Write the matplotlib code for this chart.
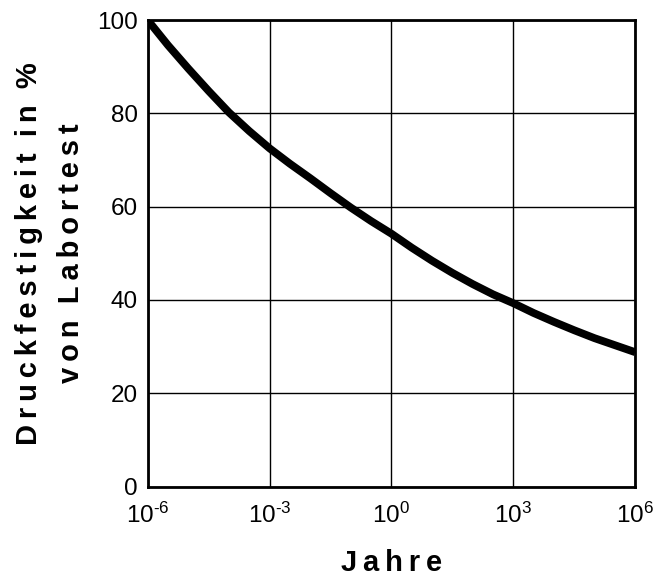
import matplotlib
matplotlib.use("Agg")
import matplotlib.pyplot as plt

# Werte (Jahre, Druckfestigkeit in %)
jahre = [1e-6, 10**-5.5, 1e-5, 10**-4.5, 1e-4, 10**-3.5, 1e-3, 10**-2.5, 1e-2,
         10**-1.5, 1e-1, 10**-0.5, 1e0, 10**0.5, 1e1, 10**1.5, 1e2, 10**2.5,
         1e3, 10**3.5, 1e4, 10**4.5, 1e5, 10**5.5, 1e6]
festigkeit = [100, 94.6, 89.6, 84.8, 80.2, 76.2, 72.5, 69.2, 66.1,
              62.9, 59.8, 56.9, 54.2, 51.2, 48.4, 45.8, 43.4, 41.2,
              39.3, 37.2, 35.3, 33.5, 31.8, 30.3, 28.8]

x_ticks = [1e-6, 1e-3, 1e0, 1e3, 1e6]
x_labels = [r"$10^{\text{-6}}$", r"$10^{\text{-3}}$", r"$10^{\text{0}}$",
            r"$10^{\text{3}}$", r"$10^{\text{6}}$"]
y_ticks = [0, 20, 40, 60, 80, 100]

plt.rcParams["font.family"] = ["Liberation Sans", "DejaVu Sans"]
plt.rcParams["mathtext.fontset"] = "custom"
plt.rcParams["mathtext.rm"] = "Liberation Sans"
plt.rcParams["mathtext.it"] = "Liberation Sans"

fig = plt.figure(figsize=(6.61, 5.77), dpi=100)
ax = fig.add_axes([0.2234, 0.1568, 0.7375, 0.8085])

ax.plot(jahre, festigkeit, color="black", linewidth=5.6, solid_capstyle="butt", zorder=3)

ax.set_xscale("log")
ax.set_xlim(1e-6, 1e6)
ax.set_ylim(0, 100)
ax.set_xticks(x_ticks)
ax.set_xticklabels(x_labels)
ax.set_yticks(y_ticks)
ax.minorticks_off()
ax.tick_params(axis="both", length=0, labelsize=17.5)
ax.tick_params(axis="x", pad=12)
ax.tick_params(axis="y", pad=7)

ax.grid(True, color="black", linewidth=1.0)
for s in ax.spines.values():
    s.set_linewidth(2.0)
    s.set_color("black")

# gesperrte Schrift mit schmalen Leerzeichen
sp = "\u2009"
ax.set_xlabel(sp.join("Jahre"), fontsize=21, fontweight="bold", labelpad=15)
zeile1 = sp.join("Druckfestigkeit") + "  " + sp.join("in") + "  %"
zeile2 = sp.join("von") + "  " + sp.join("Labortest")
ax.set_ylabel(zeile1 + "\n" + zeile2, fontsize=21, fontweight="bold",
              labelpad=9, linespacing=1.6)

fig.savefig("out.png", dpi=100)
